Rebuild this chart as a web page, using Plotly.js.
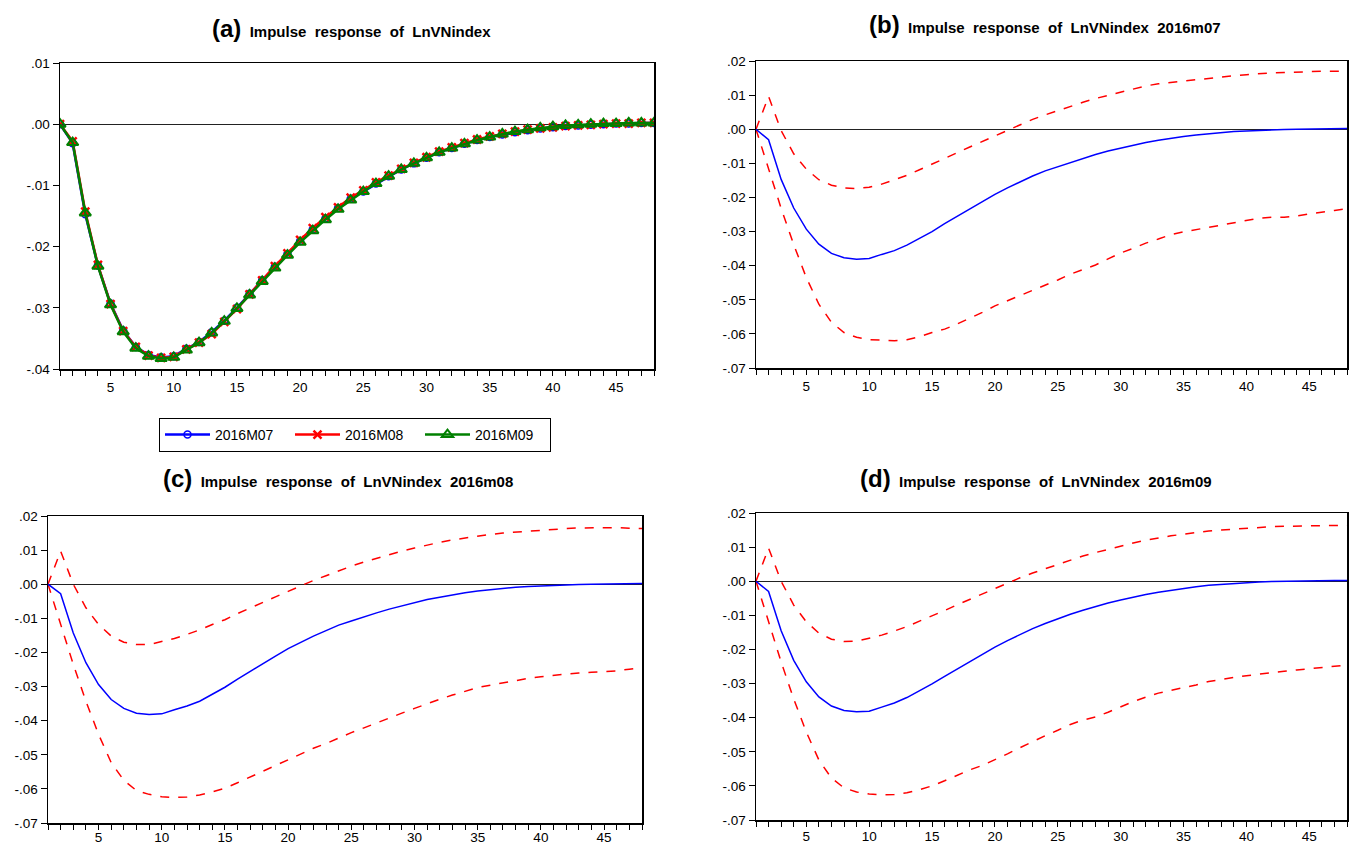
<!DOCTYPE html>
<html>
<head>
<meta charset="utf-8">
<script src="https://cdn.plot.ly/plotly-3.0.1.min.js"></script>
<style>html,body{margin:0;padding:0;background:#fff;}#chart{width:1352px;height:847px;}</style>
</head>
<body>
<div id="chart"></div>
<script>
// ---------- data ----------
const periods = Array.from({length: 48}, (_, i) => i + 1);

const irf07 = [0, -0.0031, -0.0147, -0.0231, -0.0293, -0.0337, -0.0364, -0.0377, -0.0381, -0.0379,
  -0.0367, -0.0356, -0.0340, -0.0321, -0.0300, -0.0277, -0.0255, -0.0233, -0.0212, -0.0191,
  -0.0172, -0.0154, -0.0137, -0.0122, -0.0110, -0.0097, -0.0085, -0.0074, -0.0064, -0.0055,
  -0.0046, -0.0039, -0.0032, -0.0026, -0.0021, -0.0017, -0.0013, -0.0010, -0.0007, -0.0005,
  -0.0003, -0.0002, -0.0001, 0.0000, 0.0001, 0.0001, 0.0002, 0.0002];

const irf08 = [0, -0.0028, -0.0143, -0.0230, -0.0294, -0.0338, -0.0364, -0.0378, -0.0382, -0.0380,
  -0.0368, -0.0357, -0.0343, -0.0323, -0.0302, -0.0278, -0.0255, -0.0232, -0.0211, -0.0189,
  -0.0170, -0.0152, -0.0136, -0.0120, -0.0108, -0.0095, -0.0084, -0.0073, -0.0063, -0.0054,
  -0.0045, -0.0038, -0.0031, -0.0025, -0.0020, -0.0016, -0.0012, -0.0009, -0.0007, -0.0005,
  -0.0003, -0.0002, -0.0001, 0.0000, 0.0001, 0.0001, 0.0002, 0.0002];

const irf09 = [0, -0.0030, -0.0145, -0.0232, -0.0295, -0.0339, -0.0366, -0.0379, -0.0383, -0.0381,
  -0.0369, -0.0357, -0.0341, -0.0322, -0.0301, -0.0279, -0.0257, -0.0235, -0.0214, -0.0193,
  -0.0174, -0.0156, -0.0139, -0.0124, -0.0110, -0.0097, -0.0085, -0.0074, -0.0064, -0.0055,
  -0.0046, -0.0039, -0.0032, -0.0026, -0.0021, -0.0016, -0.0012, -0.0009, -0.0006, -0.0004,
  -0.0002, -0.0001, 0.0000, 0.0001, 0.0001, 0.0002, 0.0002, 0.0002];

const upper07 = [0, 0.0096, -0.0004, -0.0072, -0.0117, -0.0148, -0.0164, -0.0172, -0.0174, -0.0170,
  -0.0161, -0.0149, -0.0135, -0.0119, -0.0103, -0.0086, -0.0069, -0.0052, -0.0036, -0.0019,
  -0.0002, 0.0014, 0.0029, 0.0042, 0.0055, 0.0067, 0.0079, 0.0090, 0.0099, 0.0109,
  0.0119, 0.0127, 0.0133, 0.0137, 0.0142, 0.0147, 0.0151, 0.0154, 0.0157, 0.0160,
  0.0163, 0.0165, 0.0166, 0.0168, 0.0169, 0.0170, 0.0170, 0.0169];

const lower07 = [0, -0.0115, -0.0232, -0.0338, -0.0435, -0.0513, -0.0566, -0.0596, -0.0610, -0.0617,
  -0.0619, -0.0620, -0.0617, -0.0608, -0.0596, -0.0586, -0.0571, -0.0555, -0.0537, -0.0518,
  -0.0503, -0.0489, -0.0474, -0.0457, -0.0442, -0.0425, -0.0411, -0.0398, -0.0380, -0.0363,
  -0.0349, -0.0334, -0.0322, -0.0309, -0.0301, -0.0294, -0.0287, -0.0281, -0.0274, -0.0266,
  -0.0261, -0.0258, -0.0258, -0.0254, -0.0248, -0.0243, -0.0238, -0.0233];

const upper08 = [0, 0.0097, 0.0000, -0.0069, -0.0118, -0.0152, -0.0170, -0.0177, -0.0177, -0.0169,
  -0.0159, -0.0147, -0.0134, -0.0118, -0.0104, -0.0086, -0.0069, -0.0053, -0.0037, -0.0021,
  -0.0004, 0.0011, 0.0025, 0.0040, 0.0053, 0.0065, 0.0076, 0.0087, 0.0097, 0.0106,
  0.0115, 0.0123, 0.0130, 0.0136, 0.0142, 0.0146, 0.0150, 0.0153, 0.0156, 0.0159,
  0.0161, 0.0163, 0.0165, 0.0166, 0.0167, 0.0166, 0.0164, 0.0163];

const lower08 = [0, -0.0118, -0.0235, -0.0343, -0.0440, -0.0523, -0.0575, -0.0605, -0.0616, -0.0623,
  -0.0625, -0.0624, -0.0618, -0.0609, -0.0598, -0.0582, -0.0565, -0.0548, -0.0531, -0.0514,
  -0.0497, -0.0481, -0.0467, -0.0450, -0.0435, -0.0421, -0.0406, -0.0392, -0.0378, -0.0364,
  -0.0350, -0.0337, -0.0325, -0.0314, -0.0303, -0.0296, -0.0289, -0.0282, -0.0276, -0.0271,
  -0.0267, -0.0263, -0.0260, -0.0258, -0.0257, -0.0254, -0.0249, -0.0244];

const upper09 = [0, 0.0097, 0.0000, -0.0070, -0.0119, -0.0152, -0.0170, -0.0177, -0.0176, -0.0168,
  -0.0158, -0.0146, -0.0133, -0.0117, -0.0102, -0.0086, -0.0069, -0.0053, -0.0037, -0.0021,
  -0.0005, 0.0010, 0.0024, 0.0037, 0.0050, 0.0062, 0.0074, 0.0084, 0.0094, 0.0104,
  0.0112, 0.0120, 0.0127, 0.0133, 0.0138, 0.0143, 0.0147, 0.0150, 0.0153, 0.0156,
  0.0158, 0.0160, 0.0161, 0.0162, 0.0163, 0.0164, 0.0164, 0.0164];

const lower09 = [0, -0.0120, -0.0237, -0.0345, -0.0442, -0.0524, -0.0577, -0.0606, -0.0618, -0.0624,
  -0.0626, -0.0625, -0.0620, -0.0611, -0.0600, -0.0585, -0.0569, -0.0553, -0.0540, -0.0524,
  -0.0506, -0.0488, -0.0470, -0.0453, -0.0437, -0.0420, -0.0407, -0.0398, -0.0384, -0.0368,
  -0.0353, -0.0340, -0.0328, -0.0320, -0.0313, -0.0304, -0.0294, -0.0287, -0.0282, -0.0277,
  -0.0272, -0.0268, -0.0264, -0.0260, -0.0256, -0.0252, -0.0249, -0.0246];

const seriesNames = ['2016M07', '2016M08', '2016M09'];
const xTickVals = [5, 10, 15, 20, 25, 30, 35, 40, 45];
const yTickValsA = [0.01, 0.00, -0.01, -0.02, -0.03, -0.04];
const yTickTextA = ['.01', '.00', '-.01', '-.02', '-.03', '-.04'];
const yTickValsB = [0.02, 0.01, 0.00, -0.01, -0.02, -0.03, -0.04, -0.05, -0.06, -0.07];
const yTickTextB = ['.02', '.01', '.00', '-.01', '-.02', '-.03', '-.04', '-.05', '-.06', '-.07'];
const panelTitles = [
  ['(a)', 'Impulse response of LnVNindex'],
  ['(b)', 'Impulse response of LnVNindex 2016m07'],
  ['(c)', 'Impulse response of LnVNindex 2016m08'],
  ['(d)', 'Impulse response of LnVNindex 2016m09']
];

// ---------- layout helpers ----------
const W = 1352, H = 847;
const FONT = 'Liberation Sans, Arial, Helvetica, sans-serif';
// pixel boxes [left, right, top, bottom]
const boxes = [
  [60, 654, 63, 369],
  [756, 1347, 61, 368],
  [48, 642, 516, 823],
  [756, 1347, 513, 820]
];
const titlePos = [[351, 28], [1045, 25], [338, 478], [1036, 478]];

function xAxis(b, standoff) {
  return {
    domain: [b[0] / W, b[1] / W], range: [1, 48],
    showline: true, mirror: true, linecolor: '#000', linewidth: 1.5,
    showgrid: false, zeroline: false,
    ticks: 'outside', ticklen: 5, tickwidth: 1, tickcolor: '#000',
    tickmode: 'array', tickvals: xTickVals, ticklabelstandoff: standoff,
    minor: {ticks: 'outside', dtick: 1, tick0: 1, ticklen: 5, tickwidth: 1, tickcolor: '#000', showgrid: false},
    tickfont: {family: FONT, size: 13.5, color: '#000'}, fixedrange: true
  };
}
function yAxis(b, range, vals, text) {
  return {
    domain: [1 - b[3] / H, 1 - b[2] / H], range: range,
    showline: true, mirror: true, linecolor: '#000', linewidth: 1.5,
    showgrid: false, zeroline: true, zerolinecolor: '#222', zerolinewidth: 1,
    ticks: 'outside', ticklen: 6, tickwidth: 1, tickcolor: '#000',
    tickmode: 'array', tickvals: vals, ticktext: text,
    tickfont: {family: FONT, size: 13.5, color: '#000'}, fixedrange: true
  };
}

// ---------- traces ----------
const traces = [];
// panel (a)
traces.push({x: periods, y: irf07, xaxis: 'x', yaxis: 'y', name: seriesNames[0], mode: 'lines+markers',
  line: {color: '#0000ff', width: 2.5}, marker: {symbol: 'circle-open', size: 7, color: '#0000ff', line: {width: 1.5, color: '#0000ff'}}});
traces.push({x: periods, y: irf08, xaxis: 'x', yaxis: 'y', name: seriesNames[1], mode: 'lines+markers',
  line: {color: '#ff0000', width: 2.5}, marker: {symbol: 'x-thin-open', size: 8, color: '#ff0000', line: {width: 2.5, color: '#ff0000'}}});
traces.push({x: periods, y: irf09, xaxis: 'x', yaxis: 'y', name: seriesNames[2], mode: 'lines+markers',
  line: {color: '#008000', width: 2.5}, marker: {symbol: 'triangle-up-open', size: 10, color: '#008000', line: {width: 2, color: '#008000'}}});

const groups = [[irf07, upper07, lower07], [irf08, upper08, lower08], [irf09, upper09, lower09]];
groups.forEach((g, i) => {
  const xa = 'x' + (i + 2), ya = 'y' + (i + 2);
  traces.push({x: periods, y: g[1], xaxis: xa, yaxis: ya, mode: 'lines', showlegend: false,
    line: {color: '#ff0000', width: 1.5, dash: 'dash'}});
  traces.push({x: periods, y: g[2], xaxis: xa, yaxis: ya, mode: 'lines', showlegend: false,
    line: {color: '#ff0000', width: 1.5, dash: 'dash'}});
  traces.push({x: periods, y: g[0], xaxis: xa, yaxis: ya, mode: 'lines', showlegend: false,
    line: {color: '#0000ff', width: 1.5}});
});

const annotations = panelTitles.map((t, i) => ({
  xref: 'paper', yref: 'paper', x: titlePos[i][0] / W, y: 1 - titlePos[i][1] / H,
  xanchor: 'center', yanchor: 'middle', showarrow: false,
  text: '<b><span style="font-size:24px">' + t[0] + '</span>&nbsp;&nbsp;' + t[1].split(' ').join('&nbsp; ') + '</b>',
  font: {family: FONT, size: 15, color: '#000'}
}));

const layout = {
  width: W, height: H, margin: {l: 0, r: 0, t: 0, b: 0},
  paper_bgcolor: '#fff', plot_bgcolor: '#fff',
  font: {family: FONT, size: 13, color: '#000'},
  xaxis: Object.assign(xAxis(boxes[0], 0), {anchor: 'y'}),
  yaxis: Object.assign(yAxis(boxes[0], [-0.04, 0.01], yTickValsA, yTickTextA), {anchor: 'x'}),
  xaxis2: Object.assign(xAxis(boxes[1], 0), {anchor: 'y2'}),
  yaxis2: Object.assign(yAxis(boxes[1], [-0.07, 0.02], yTickValsB, yTickTextB), {anchor: 'x2'}),
  xaxis3: Object.assign(xAxis(boxes[2], -4), {anchor: 'y3'}),
  yaxis3: Object.assign(yAxis(boxes[2], [-0.07, 0.02], yTickValsB, yTickTextB), {anchor: 'x3'}),
  xaxis4: Object.assign(xAxis(boxes[3], -2), {anchor: 'y4'}),
  yaxis4: Object.assign(yAxis(boxes[3], [-0.07, 0.02], yTickValsB, yTickTextB), {anchor: 'x4'}),
  showlegend: true,
  legend: {orientation: 'h', x: 355 / W, y: 1 - 435 / H, xanchor: 'center', yanchor: 'middle',
    bordercolor: '#000', borderwidth: 1, bgcolor: '#fff',
    font: {family: FONT, size: 14, color: '#000'}, itemwidth: 45,
    entrywidth: 70, entrywidthmode: 'pixels', tracegroupgap: 0},
  annotations: annotations
};

Plotly.newPlot('chart', traces, layout, {staticPlot: true, displayModeBar: false});
</script>
</body>
</html>
